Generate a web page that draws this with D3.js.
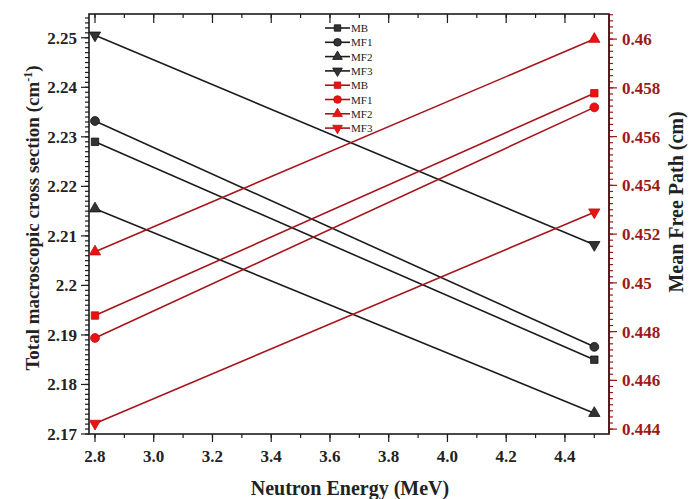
<!DOCTYPE html>
<html lang="en">
<head>
    <meta charset="UTF-8">
    <title>Cross section and mean free path</title>
    <script src="https://cdn.jsdelivr.net/npm/d3@7"></script>
    <style>
        body { margin: 0; background: #fff; }
    </style>
</head>
<body>
<script>
    const width = 690, height = 499;
    const margin = {top: 14, right: 81, bottom: 65, left: 89};
    const serif = '"Liberation Serif", "Times New Roman", "DejaVu Serif", serif';

    // neutron energies
    const energy = [2.8, 4.5];
    const names = ['MB', 'MF1', 'MF2', 'MF3'];
    const symbols = [d3.symbolSquare, d3.symbolCircle, d3.symbolTriangle, 'down'];

    // total macroscopic cross section (cm^-1), left axis
    const sigmaMB = [2.229, 2.185];
    const sigmaMF1 = [2.2332, 2.1876];
    const sigmaMF2 = [2.2155, 2.1742];
    const sigmaMF3 = [2.2505, 2.2082];

    // mean free path (cm), right axis
    const mfpMB = [0.44866, 0.45778];
    const mfpMF1 = [0.44774, 0.4572];
    const mfpMF2 = [0.45128, 0.46];
    const mfpMF3 = [0.44423, 0.4529];

    const xTicks = [2.8, 3.0, 3.2, 3.4, 3.6, 3.8, 4.0, 4.2, 4.4];
    const leftTicks = [2.17, 2.18, 2.19, 2.2, 2.21, 2.22, 2.23, 2.24, 2.25];
    const rightTicks = [0.444, 0.446, 0.448, 0.45, 0.452, 0.454, 0.456, 0.458, 0.46];

    const black = '#1c1c1c', redLine = '#a8141c', redFill = '#ee1111', axisRed = '#9a1a1a';

    const svg = d3.select('body').append('svg')
        .attr('width', width)
        .attr('height', height)
        .attr('font-family', serif);

    const bottom = height - margin.bottom;
    const x = d3.scaleLinear().domain([2.7796, 4.55]).range([margin.left, width - margin.right]);
    const yL = d3.scaleLinear().domain([2.17, 2.2548]).range([bottom, margin.top]);
    const yR = d3.scaleLinear().domain([0.4438, 0.46103]).range([bottom, margin.top]);

    // minor ticks
    const xMinor = d3.range(28, 46).map(function (v) { return v / 10; });
    const lMinor = d3.range(2170, 2255).map(function (v) { return v / 1000; });
    const rMinor = d3.range(0, 69).map(function (i) { return 0.444 + i * 0.00025; });

    function tick(g, data, scale, len, horizontal, pos, color) {
        g.selectAll(null)
            .data(data)
            .enter()
            .append('line')
            .attr('x1', function (d) { return horizontal ? scale(d) : pos; })
            .attr('x2', function (d) { return horizontal ? scale(d) : pos + len; })
            .attr('y1', function (d) { return horizontal ? pos : scale(d); })
            .attr('y2', function (d) { return horizontal ? pos + len : scale(d); })
            .attr('stroke', color)
            .attr('stroke-width', 1.2);
    }

    const axes = svg.append('g');
    const xm = xMinor.filter(function (v) { return x(v) < width - margin.right; });
    // bottom (outward) and top (inward)
    tick(axes, xm, x, 4, true, bottom, black);
    tick(axes, xTicks, x, 8, true, bottom, black);
    tick(axes, xm, x, 4, true, margin.top, black);
    tick(axes, xTicks, x, 9, true, margin.top, black);
    // left
    tick(axes, lMinor.filter(function (v) { return yL(v) > margin.top; }), yL, -4, false, margin.left, black);
    tick(axes, leftTicks, yL, -8, false, margin.left, black);
    // right
    tick(axes, rMinor.filter(function (v) { return yR(v) > margin.top && yR(v) < bottom; }), yR, 4, false, width - margin.right, axisRed);
    tick(axes, rightTicks, yR, 8, false, width - margin.right, axisRed);

    axes.append('rect')
        .attr('x', margin.left)
        .attr('y', margin.top)
        .attr('width', width - margin.right - margin.left)
        .attr('height', bottom - margin.top)
        .attr('fill', 'none')
        .attr('stroke', black)
        .attr('stroke-width', 1.6);
    axes.append('line')
        .attr('x1', width - margin.right).attr('x2', width - margin.right)
        .attr('y1', margin.top).attr('y2', bottom)
        .attr('stroke', '#5a1414')
        .attr('stroke-width', 1.6);

    // tick labels
    axes.selectAll('.xl')
        .data(xTicks)
        .enter()
        .append('text')
        .attr('x', function (d) { return x(d); })
        .attr('y', 462)
        .attr('text-anchor', 'middle')
        .attr('font-size', 17)
        .attr('font-weight', 'bold')
        .attr('fill', '#222')
        .text(function (d) { return d.toFixed(1); });

    axes.selectAll('.ll')
        .data(leftTicks)
        .enter()
        .append('text')
        .attr('x', 77)
        .attr('y', function (d) { return yL(d) + 6; })
        .attr('text-anchor', 'end')
        .attr('font-size', 17)
        .attr('font-weight', 'bold')
        .attr('fill', '#222')
        .text(function (d) { return d3.format('')(d); });

    axes.selectAll('.rl')
        .data(rightTicks)
        .enter()
        .append('text')
        .attr('x', 622)
        .attr('y', function (d) { return yR(d) + 6; })
        .attr('font-size', 17)
        .attr('font-weight', 'bold')
        .attr('fill', axisRed)
        .text(function (d) { return d3.format('')(d); });

    // axis titles
    svg.append('text')
        .attr('x', 350)
        .attr('y', 495)
        .attr('text-anchor', 'middle')
        .attr('font-size', 20)
        .attr('font-weight', 'bold')
        .attr('fill', '#222')
        .text('Neutron Energy (MeV)');

    const lt = svg.append('text')
        .attr('transform', 'translate(39,218) rotate(-90)')
        .attr('text-anchor', 'middle')
        .attr('font-size', 19)
        .attr('font-weight', 'bold')
        .attr('fill', '#222');
    lt.append('tspan').text('Total macroscopic cross section (cm');
    lt.append('tspan').attr('dy', -7).attr('font-size', 12).text('-1');
    lt.append('tspan').attr('dy', 7).text(')');

    svg.append('text')
        .attr('transform', 'translate(683,202) rotate(-90)')
        .attr('text-anchor', 'middle')
        .attr('font-size', 20)
        .attr('font-weight', 'bold')
        .attr('fill', '#222')
        .text('Mean Free Path (cm)');

    // series
    const series = [
        {name: 'MB', vals: sigmaMB, y: yL, sym: 0, red: false},
        {name: 'MF1', vals: sigmaMF1, y: yL, sym: 1, red: false},
        {name: 'MF2', vals: sigmaMF2, y: yL, sym: 2, red: false},
        {name: 'MF3', vals: sigmaMF3, y: yL, sym: 3, red: false},
        {name: 'MB', vals: mfpMB, y: yR, sym: 0, red: true},
        {name: 'MF1', vals: mfpMF1, y: yR, sym: 1, red: true},
        {name: 'MF2', vals: mfpMF2, y: yR, sym: 2, red: true},
        {name: 'MF3', vals: mfpMF3, y: yR, sym: 3, red: true}
    ];

    function marker(g, s, cx, cy, scale) {
        const sym = symbols[s.sym];
        const size = (sym === d3.symbolCircle ? 62 : 55) * scale;
        const path = d3.symbol().type(sym === 'down' ? d3.symbolTriangle : sym).size(size);
        g.append('path')
            .attr('d', path)
            .attr('transform', 'translate(' + cx + ',' + cy + ')' + (sym === 'down' ? ' rotate(180)' : ''))
            .attr('fill', s.red ? redFill : '#333')
            .attr('stroke', s.red ? '#c01010' : '#111')
            .attr('stroke-width', 0.8);
    }

    const lines = svg.append('g');
    series.forEach(function (s) {
        const gen = d3.line()
            .x(function (d, i) { return x(energy[i]); })
            .y(function (d) { return s.y(d); });
        lines.append('path')
            .datum(s.vals)
            .attr('d', gen)
            .attr('fill', 'none')
            .attr('stroke', s.red ? redLine : black)
            .attr('stroke-width', 1.6);
        s.vals.forEach(function (v, i) {
            marker(lines, s, x(energy[i]), s.y(v), 1);
        });
    });

    // legend
    const legend = svg.append('g');
    series.forEach(function (s, i) {
        const ly = 28 + i * 14.3;
        legend.append('line')
            .attr('x1', 325).attr('x2', 350)
            .attr('y1', ly).attr('y2', ly)
            .attr('stroke', s.red ? redLine : black)
            .attr('stroke-width', 1.6);
        marker(legend, s, 337.5, ly, 0.75);
        legend.append('text')
            .attr('x', 351)
            .attr('y', ly + 4)
            .attr('font-size', 11)
            .attr('fill', '#222')
            .text(s.name);
    });
</script>
</body>
</html>
